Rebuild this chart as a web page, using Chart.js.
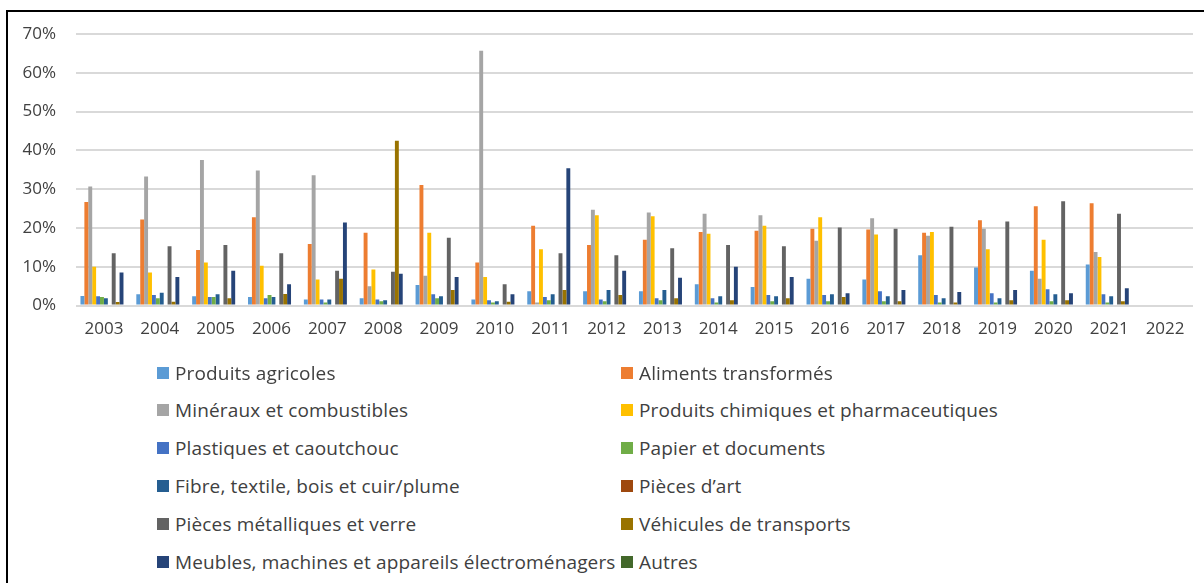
<!DOCTYPE html>
<html lang="fr">
<head>
<meta charset="utf-8">
<script src="https://cdn.jsdelivr.net/npm/chart.js@4.4.1/dist/chart.umd.min.js"></script>
<style>
  body { margin: 0; background: #fff; width: 1204px; height: 583px; overflow: hidden; position: relative; font-family: "Open Sans", sans-serif; }
  #frame { position: absolute; left: 6px; top: 10px; width: 1210px; height: 600px; border-top: 2px solid #000; border-left: 2px solid #000; }
  #chart { position: absolute; left: 0; top: 0; }
  .item { position: absolute; font-size: 19px; letter-spacing: 0.15px; color: #404040; white-space: nowrap; line-height: 20px; padding-left: 18px; }
  .item .box { position: absolute; left: 0; top: 4px; width: 12px; height: 12px; }
</style>
</head>
<body>
<div id="frame"></div>
<canvas id="chart" width="1204" height="362"></canvas>
<div id="legend"></div>
<script>
// --- data (percent) ---
const years = ['2003','2004','2005','2006','2007','2008','2009','2010','2011','2012','2013','2014','2015','2016','2017','2018','2019','2020','2021','2022'];

const produitsAgricoles   = [2.5, 2.9, 2.4, 2.2, 1.6, 1.9, 5.3, 1.6, 3.7, 3.7, 3.7, 5.5, 4.8, 6.9, 6.7, 13.0, 9.8, 9.0, 10.6, null];
const alimentsTransformes = [26.7, 22.2, 14.3, 22.8, 15.9, 18.8, 31.1, 11.1, 20.6, 15.6, 17.0, 19.0, 19.3, 19.8, 19.6, 18.8, 22.0, 25.6, 26.4, null];
const mineraux            = [30.7, 33.3, 37.5, 34.8, 33.6, 5.0, 7.7, 65.7, 0.8, 24.7, 24.0, 23.7, 23.3, 16.7, 22.5, 18.0, 19.8, 6.9, 13.8, null];
const chimiques           = [10.0, 8.5, 11.1, 10.3, 6.7, 9.3, 18.8, 7.4, 14.5, 23.3, 23.0, 18.5, 20.6, 22.8, 18.3, 19.0, 14.5, 17.0, 12.5, null];
const plastiques          = [2.4, 2.7, 2.2, 1.9, 1.6, 1.6, 2.9, 1.4, 2.2, 1.6, 1.9, 1.9, 2.7, 2.7, 3.7, 2.7, 3.2, 4.2, 2.9, null];
const papier              = [2.2, 1.9, 2.2, 2.7, 0.8, 1.1, 1.9, 0.8, 1.4, 1.1, 1.4, 0.8, 1.1, 1.1, 1.1, 0.8, 0.8, 1.1, 0.8, null];
const fibre               = [1.9, 3.3, 2.9, 2.2, 1.6, 1.4, 2.4, 1.1, 2.9, 4.0, 4.0, 2.4, 2.4, 2.9, 2.4, 1.9, 1.9, 2.9, 2.4, null];
const piecesArt           = [0, 0, 0, 0, 0, 0, 0, 0, 0, 0, 0, 0, 0, 0, 0, 0, 0, 0, 0, null];
const metalVerre          = [13.5, 15.3, 15.6, 13.5, 9.0, 8.7, 17.5, 5.5, 13.5, 13.0, 14.8, 15.6, 15.3, 20.1, 19.8, 20.3, 21.7, 26.9, 23.7, null];
const vehicules           = [0.9, 1.0, 1.9, 3.0, 6.9, 42.5, 4.0, 1.0, 4.0, 2.7, 1.9, 1.4, 1.9, 2.2, 1.1, 0.8, 1.4, 1.4, 1.1, null];
const meubles             = [8.5, 7.4, 9.0, 5.5, 21.4, 8.2, 7.4, 2.9, 35.4, 9.0, 7.2, 10.0, 7.4, 3.2, 4.0, 3.5, 4.0, 3.2, 4.5, null];
const autres              = [0, 0, 0, 0, 0, 0, 0, 0, 0, 0, 0, 0, 0, 0, 0, 0, 0, 0, 0, null];

const seriesNames = [
  'Produits agricoles', 'Aliments transformés',
  'Minéraux et combustibles', 'Produits chimiques et pharmaceutiques',
  'Plastiques et caoutchouc', 'Papier et documents',
  'Fibre, textile, bois et cuir/plume', 'Pièces d\u2019art',
  'Pièces métalliques et verre', 'Véhicules de transports',
  'Meubles, machines et appareils électroménagers', 'Autres'
];
const seriesData = [produitsAgricoles, alimentsTransformes, mineraux, chimiques, plastiques, papier,
  fibre, piecesArt, metalVerre, vehicules, meubles, autres];
const seriesColors = ['#5B9BD5', '#ED7D31', '#A5A5A5', '#FFC000', '#4472C4', '#70AD47',
  '#255E91', '#9E480E', '#636363', '#997300', '#264478', '#43682B'];

const yTicks = [0, 10, 20, 30, 40, 50, 60, 70];

const fontFamily = '"Open Sans", sans-serif';
const textColor = '#404040';

/* ---------------------- Chart ---------------------- */
const ctx = document.getElementById('chart').getContext('2d');
new Chart(ctx, {
  type: 'bar',
  data: {
    labels: years,
    datasets: seriesNames.map((name, i) => ({
      label: name,
      data: seriesData[i],
      backgroundColor: seriesColors[i],
      borderWidth: 0
    }))
  },
  options: {
    responsive: false,
    animation: false,
    layout: { padding: { left: 6, right: 11, top: 34, bottom: 10 } },
    datasets: { bar: { categoryPercentage: 0.84, barPercentage: 1 } },
    plugins: { legend: { display: false }, tooltip: { enabled: false } },
    scales: {
      x: {
        grid: { display: false, drawTicks: false },
        border: { display: false },
        ticks: { color: textColor, font: { family: fontFamily, size: 17 }, padding: 13, maxRotation: 0, autoSkip: false }
      },
      y: {
        min: yTicks[0],
        max: yTicks[yTicks.length - 1],
        afterBuildTicks: s => { s.ticks = yTicks.map(v => ({ value: v })); },
        afterFit: s => { s.width = 70; },
        ticks: { color: textColor, font: { family: fontFamily, size: 17 }, padding: 20, callback: v => v + '%' },
        grid: { color: '#d9d9d9', lineWidth: 2, drawTicks: false },
        border: { display: false }
      }
    }
  }
});

/* ---------------------- Legend (2 columns) ---------------------- */
const legend = document.getElementById('legend');
const colX = [157, 621];
const rowY0 = 372.5, rowStep = 37.8;
seriesNames.forEach((name, i) => {
  const el = document.createElement('div');
  el.className = 'item';
  el.style.left = colX[i % 2] + 'px';
  el.style.top = (rowY0 + Math.floor(i / 2) * rowStep - 10) + 'px';
  el.innerHTML = '<span class="box" style="background:' + seriesColors[i] + '"></span>' + name;
  legend.appendChild(el);
});
</script>
</body>
</html>
